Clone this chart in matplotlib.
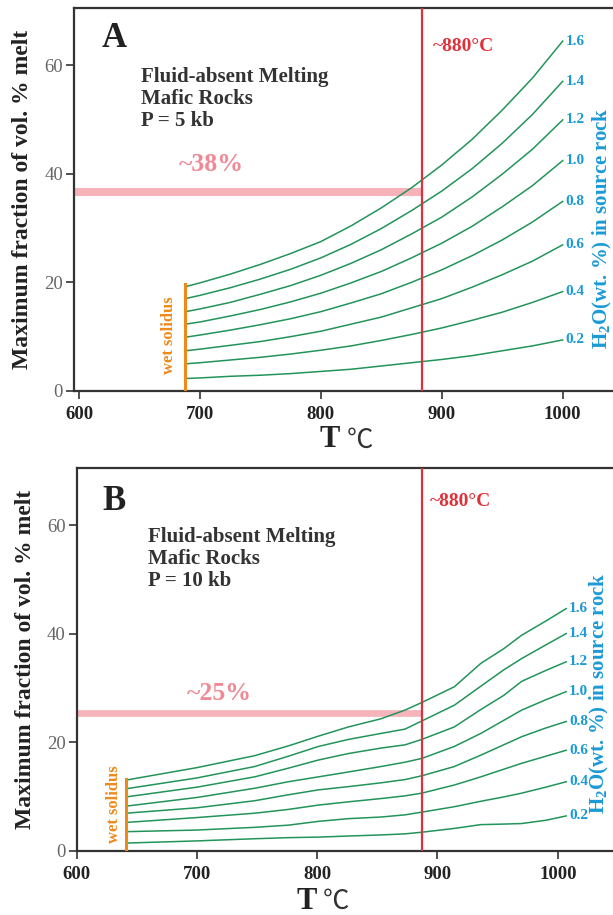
import matplotlib
matplotlib.use("Agg")
import matplotlib.pyplot as plt

# ---------------- data ----------------
h2o_labels = ["0.2", "0.4", "0.6", "0.8", "1.0", "1.2", "1.4", "1.6"]

# Panel A: P = 5 kb
tA = [688, 700, 725, 750, 775, 800, 825, 850, 875, 900, 925, 950, 975, 1000]
meltA = {
    "1.6": [19.2, 19.9, 21.5, 23.3, 25.3, 27.5, 30.4, 33.7, 37.4, 41.6, 46.3, 51.7, 57.6, 64.4],
    "1.4": [17.0, 17.6, 19.0, 20.6, 22.4, 24.5, 27.0, 29.9, 33.2, 36.8, 40.9, 45.6, 50.9, 57.0],
    "1.2": [14.6, 15.1, 16.3, 17.8, 19.4, 21.3, 23.5, 26.0, 28.9, 32.0, 35.7, 39.9, 44.5, 49.9],
    "1.0": [12.3, 12.7, 13.8, 15.0, 16.4, 18.0, 19.9, 22.0, 24.5, 27.2, 30.3, 33.9, 37.8, 42.4],
    "0.8": [9.9, 10.3, 11.2, 12.2, 13.3, 14.6, 16.2, 17.9, 20.0, 22.3, 24.9, 27.8, 31.1, 34.9],
    "0.6": [7.4, 7.7, 8.4, 9.1, 10.0, 11.0, 12.3, 13.6, 15.3, 17.0, 19.1, 21.4, 23.9, 26.9],
    "0.4": [5.0, 5.2, 5.7, 6.2, 6.8, 7.5, 8.3, 9.3, 10.4, 11.6, 13.0, 14.5, 16.3, 18.3],
    "0.2": [2.3, 2.4, 2.7, 2.9, 3.2, 3.6, 4.0, 4.6, 5.2, 5.8, 6.5, 7.4, 8.3, 9.4],
}

# Panel B: P = 10 kb
tB = [641, 700, 748, 776, 801, 826, 853, 873, 887, 914, 936, 955, 970, 990, 1007]
meltB = {
    "1.6": [13.0, 15.3, 17.5, 19.3, 21.1, 22.8, 24.3, 25.9, 27.3, 30.2, 34.5, 37.2, 39.7, 42.3, 44.6],
    "1.4": [11.4, 13.4, 15.5, 17.4, 19.2, 20.5, 21.6, 22.4, 23.9, 26.8, 30.3, 33.3, 35.4, 37.9, 40.0],
    "1.2": [9.9, 11.7, 13.6, 15.2, 16.7, 17.9, 18.9, 19.5, 20.5, 22.8, 26.0, 28.6, 31.2, 33.2, 34.8],
    "1.0": [8.2, 9.8, 11.5, 12.7, 13.6, 14.5, 15.5, 16.3, 17.0, 19.2, 21.6, 24.0, 25.9, 27.8, 29.3],
    "0.8": [6.9, 7.9, 9.2, 10.3, 11.2, 11.8, 12.5, 13.1, 13.8, 15.5, 17.6, 19.5, 21.0, 22.6, 23.8],
    "0.6": [5.2, 6.1, 6.9, 7.6, 8.4, 9.0, 9.6, 10.1, 10.6, 12.1, 13.6, 15.0, 16.1, 17.4, 18.5],
    "0.4": [3.5, 3.8, 4.3, 4.7, 5.4, 5.9, 6.2, 6.6, 7.1, 8.1, 9.1, 9.9, 10.6, 11.7, 12.7],
    "0.2": [1.4, 1.8, 2.2, 2.4, 2.5, 2.7, 2.9, 3.1, 3.4, 4.1, 4.8, 4.9, 5.0, 5.6, 6.4],
}

x_ticks = [600, 700, 800, 900, 1000]
y_ticks = [0, 20, 40, 60]

panels = [
    dict(letter="A", t=tA, melt=meltA, solidus_T=688, solidus_top=19.6,
         vline_T=884, band_y=36.6, band_label="~38%", band_label_xy=(709, 41.6),
         pressure="P = 5 kb", axpos=[74.2 / 613, 0.5727, 1 - 74.2 / 613, 0.4186],
         xlim=(596, 1041.6), solidus_text_xy=(674, 10.3), text_xy=(651, 59.6),
         letter_xy=(629, 64.8), red_txt_xy=(893, 63.4), h2o_xy=(1033, 30.0),
         band_lw=5.8, tlabel_T=807, tlabel_y=-9.0),
    dict(letter="B", t=tB, melt=meltB, solidus_T=641, solidus_top=13.2,
         vline_T=887, band_y=25.4, band_label="~25%", band_label_xy=(719, 29.0),
         pressure="P = 10 kb", axpos=[76.6 / 613, 0.0703, 1 - 76.6 / 613, 0.4182],
         xlim=(600, 1045.9), solidus_text_xy=(631, 8.6), text_xy=(659, 59.6),
         letter_xy=(631, 64.3), red_txt_xy=(894, 64.3), h2o_xy=(1035, 29.0),
         band_lw=4.8, tlabel_T=791, tlabel_y=-9.4),
]

# ---------------- style ----------------
SERIF = ["Liberation Serif", "DejaVu Serif"]
GREEN = "#22945a"
RED = "#e0303a"
PINK = "#f6b3ba"
PINK_TXT = "#ee8a95"
ORANGE = "#ee8a1a"
BLUE = "#1b9ad6"
SPINE = "#333333"

plt.rcParams["font.family"] = SERIF
plt.rcParams["mathtext.fontset"] = "custom"
plt.rcParams["mathtext.rm"] = "Liberation Serif:bold"
plt.rcParams["mathtext.bf"] = "Liberation Serif:bold"

fig = plt.figure(figsize=(6.13, 9.15), dpi=100)

for p in panels:
    ax = fig.add_axes(p["axpos"])
    ax.set_xlim(*p["xlim"])
    ax.set_ylim(0, 70.5)

    # curves
    for lab in h2o_labels:
        ys = p["melt"][lab]
        ax.plot(p["t"], ys, color=GREEN, lw=1.1, zorder=3)
        ax.text(p["t"][-1] + 2.5, ys[-1], lab, color=BLUE, fontsize=11,
                fontweight="bold", va="center", ha="left")

    # pink band
    ax.plot([p["xlim"][0], p["vline_T"]], [p["band_y"], p["band_y"]], color=PINK,
            lw=p["band_lw"], solid_capstyle="butt", zorder=2)
    ax.text(p["band_label_xy"][0], p["band_label_xy"][1], p["band_label"],
            color=PINK_TXT, fontsize=18.5, fontweight="bold",
            ha="center", va="center")

    # red vertical line
    ax.axvline(p["vline_T"], color=RED, lw=1.6, zorder=4)
    ax.text(p["red_txt_xy"][0], p["red_txt_xy"][1], "~880\u00b0C", color=RED,
            fontsize=14, fontweight="bold", ha="left", va="center")

    # wet solidus
    ax.plot([p["solidus_T"], p["solidus_T"]], [0, p["solidus_top"]],
            color=ORANGE, lw=2.2, zorder=4)
    ax.text(p["solidus_text_xy"][0], p["solidus_text_xy"][1], "wet solidus",
            color=ORANGE, fontsize=12, fontweight="bold", rotation=90,
            ha="center", va="center")

    # panel letter and description
    ax.text(p["letter_xy"][0], p["letter_xy"][1], p["letter"], fontsize=25,
            fontweight="bold", ha="center", va="center", color="#222222")
    ax.text(p["text_xy"][0], p["text_xy"][1],
            "Fluid-absent Melting\nMafic Rocks\n" + p["pressure"],
            fontsize=15, fontweight="bold", ha="left", va="top",
            color="#333333", linespacing=1.12)

    # right blue label
    ax.text(p["h2o_xy"][0], p["h2o_xy"][1], "H$_2$O(wt. %) in source rock",
            color=BLUE, fontsize=15, fontweight="bold", rotation=90,
            ha="center", va="center", clip_on=False)

    # axes styling
    ax.spines["right"].set_visible(False)
    for s in ["left", "bottom", "top"]:
        ax.spines[s].set_color(SPINE)
        ax.spines[s].set_linewidth(1.6)
    ax.set_xticks(x_ticks)
    ax.set_xticklabels([str(v) for v in x_ticks], fontweight="bold",
                       fontsize=13.5, color="#222222")
    ax.set_yticks(y_ticks)
    ax.set_yticklabels([str(v) for v in y_ticks], fontsize=13.5, color="#666666")
    ax.tick_params(axis="both", direction="out", length=6, width=1.2,
                   color=SPINE)
    ax.tick_params(axis="x", pad=5)
    ax.tick_params(axis="y", pad=2)

    ax.set_ylabel("Maximum fraction of vol. % melt", fontsize=17,
                  fontweight="bold", color="#222222", labelpad=8)
    ax.set_xlabel("")
    ax.text(p["tlabel_T"], p["tlabel_y"], "T", fontsize=22, fontweight="bold",
            ha="center", va="center", color="#222222", clip_on=False)
    ax.text(p["tlabel_T"] + 14, p["tlabel_y"], "\u2103", fontsize=19,
            ha="left", va="center", color="#333333",
            family=["Noto Sans CJK SC", "DejaVu Sans"], fontweight="light",
            clip_on=False)

fig.savefig("out.png", dpi=100, facecolor="white")
